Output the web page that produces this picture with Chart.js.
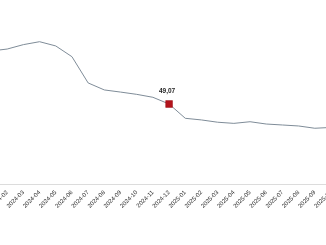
<!DOCTYPE html>
<html>
<head>
<meta charset="utf-8">
<script src="https://cdn.jsdelivr.net/npm/chart.js@4/dist/chart.umd.min.js"></script>
<style>
  html, body { margin: 0; padding: 0; background: #fff; overflow: hidden; }
  body { width: 326px; height: 245px; position: relative; }
  #wrap { position: absolute; left: -9px; top: 0; width: 340px; height: 245px; }
</style>
</head>
<body>
<div id="wrap"><canvas id="c" width="340" height="245"></canvas></div>
<script>
'use strict';

// ── Data ─────────────────────────────────────────────────────────────────────
const months = ['2024-01','2024-02','2024-03','2024-04','2024-05','2024-06','2024-07',
  '2024-08','2024-09','2024-10','2024-11','2024-12','2025-01','2025-02','2025-03',
  '2025-04','2025-05','2025-06','2025-07','2025-08','2025-09','2025-10'];
const values = [81.6, 82.8, 85.5, 87.3, 84.7, 78.1, 62.0, 57.7, 56.4, 55.0, 53.2, 49.07,
  40.3, 39.3, 37.9, 37.2, 38.2, 36.8, 36.2, 35.6, 34.2, 34.7];
const highlightIndex = 11;
const highlightText = '49,07';

// ── Value label on highlighted point ────────────────────────────────────────
const labelPlugin = {
  id: 'hiLabel',
  afterDatasetsDraw(chart) {
    const pt = chart.getDatasetMeta(0).data[highlightIndex];
    const ctx = chart.ctx;
    ctx.save();
    ctx.font = 'bold 6.5px "Liberation Sans", Arial, sans-serif';
    ctx.fillStyle = '#222';
    ctx.textAlign = 'center';
    ctx.textBaseline = 'middle';
    ctx.fillText(highlightText, pt.x - 2, pt.y - 13);
    ctx.restore();
  }
};

new Chart(document.getElementById('c'), {
  type: 'line',
  data: {
    labels: months,
    datasets: [{
      data: values,
      borderColor: '#7f8c98',
      borderWidth: 1,
      tension: 0,
      pointStyle: 'rect',
      pointRadius: ctx => ctx.dataIndex === highlightIndex ? 4.8 : 0,
      pointHoverRadius: 0,
      pointBackgroundColor: '#b3141c',
      pointBorderColor: '#9a1118',
      pointBorderWidth: 0.5
    }]
  },
  options: {
    responsive: false,
    animation: false,
    events: [],
    layout: { padding: { top: 21, left: 0, right: 0, bottom: 0 } },
    plugins: { legend: { display: false }, tooltip: { enabled: false } },
    scales: {
      x: {
        offset: false,
        grid: { display: false, drawTicks: false },
        border: { display: true, color: '#dcdcdc', width: 1 },
        ticks: {
          autoSkip: false, maxRotation: 45, minRotation: 45, padding: 5,
          color: '#2a2a2a', font: { size: 6, family: '"Liberation Sans", Arial, sans-serif' }
        },
        afterFit(scale) { scale.height = 61; scale.paddingLeft = 0; scale.paddingRight = 0; }
      },
      y: { display: false, min: 0, max: 100 }
    }
  },
  plugins: [labelPlugin]
});
</script>
</body>
</html>
